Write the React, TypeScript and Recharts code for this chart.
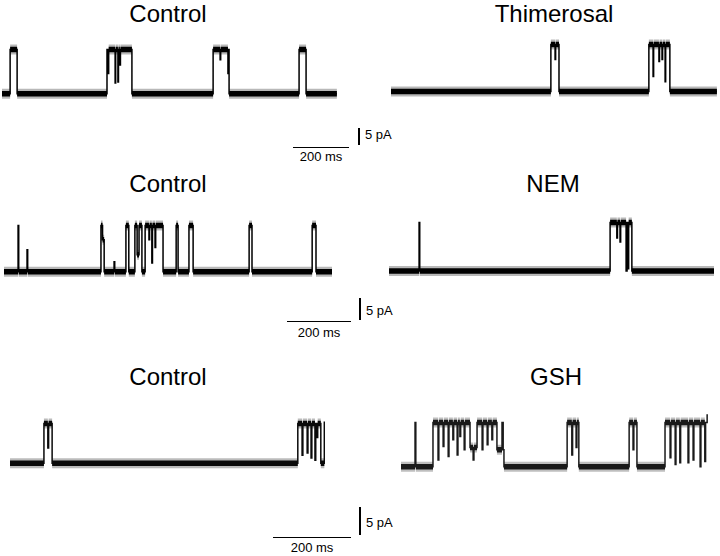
import React from "react";
import { LineChart, Line, XAxis, YAxis } from "recharts";

// Each trace: [time (ms), current (pA)] steps (level holds until next step)
const controlTopSteps: [number, number][] = [[0,0],[29,13],[54,0],[375,13],[379,6],[381,13],[404,3.2],[406,13],[414,3.5],[416,13],[421,8.5],[423,13],[464,0],[754,13],[779,10],[781,13],[807,6],[809,13],[811,0],[1061,13],[1086,0],[1196,0]];
const thimerosalSteps: [number, number][] = [[0,0],[571,13.8],[586,9.4],[588,13.8],[600,0],[921,13.8],[936,4.4],[938,13.8],[957,8.8],[959,13.8],[968,9.4],[970,13.8],[979,2.9],[981,13.8],[996,0],[1164,0]];
const controlMidSteps: [number, number][] = [[0,0],[44,10.5],[46,0],[72,5],[74,0],[303,10.5],[308,7.3],[313,0],[344,2.3],[346,0],[381,10.5],[390,0],[409,10.5],[416,3.9],[422,10.5],[431,0],[441,10.5],[453,7.3],[455,10.5],[462,2],[464,10.5],[472,5.5],[474,10.5],[497,0],[538,10.5],[544,0],[578,10.5],[591,0],[766,10.5],[775,0],[963,10.5],[975,0],[1025,0]];
const nemSteps: [number, number][] = [[0,0],[94,11],[96,0],[691,11],[712,7.5],[714,11],[722,6.6],[724,11],[741,0],[744,11],[747,0.5],[749,11],[759,0],[1016,0]];
const controlBotSteps: [number, number][] = [[0,0],[87,7.1],[97,2.7],[99,7.1],[108,0],[738,7.1],[749,1.4],[751,7.1],[762,1.8],[764,7.1],[772,0.9],[774,7.1],[782,0.5],[784,7.1],[787,4.6],[789,7.1],[797,0],[806,7.3],[808,7.3]];
const gshSteps: [number, number][] = [[0,0],[36,7.9],[38,0],[82,7.9],[95,1.2],[97,7.9],[108,3.6],[110,7.9],[121,1.8],[123,7.9],[133,4.8],[135,7.9],[144,2.1],[146,7.9],[151,5.4],[153,7.9],[162,3],[164,7.9],[177,3.4],[185,1.2],[187,3.4],[195,7.9],[208,3],[210,7.9],[221,3.9],[223,7.9],[233,4.8],[235,7.9],[246,3],[259,7.9],[262,3],[264,0],[426,7.9],[438,2.1],[440,7.9],[449,3.4],[451,7.9],[456,0],[585,7.9],[595,3],[597,7.9],[605,0],[677,7.9],[690,1.6],[692,7.9],[703,0.4],[705,7.9],[715,0.7],[717,7.9],[736,0.7],[738,7.9],[749,1.2],[751,7.9],[767,0],[769,7.9],[779,0.9],[781,7.9],[785,9.2],[787,9.2]];

const titles = ["Control", "Thimerosal", "Control", "NEM", "Control", "GSH"];
const scaleTime = "200 ms";
const scaleCurrent = "5 pA";

// row scales: px per ms, px per pA
const rowScales = [
  { pxPerMs: 0.28, pxPerPA: 3.4 },
  { pxPerMs: 0.32, pxPerPA: 4.4 },
  { pxPerMs: 0.39, pxPerPA: 5.6 },
];

const panels = [
  { steps: controlTopSteps, row: 0, left: 2, baseline: 94, open: 13, title: 0, tx: 168, ty: 14, color: "#000" },
  { steps: thimerosalSteps, row: 0, left: 391, baseline: 92, open: 13.8, title: 1, tx: 554, ty: 14, color: "#000" },
  { steps: controlMidSteps, row: 1, left: 4, baseline: 272, open: 10.5, title: 2, tx: 168, ty: 184, color: "#000" },
  { steps: nemSteps, row: 1, left: 389, baseline: 271, open: 11, title: 3, tx: 553, ty: 184, color: "#000" },
  { steps: controlBotSteps, row: 2, left: 10, baseline: 463, open: 7.1, title: 4, tx: 168, ty: 377, color: "#0a0a0a" },
  { steps: gshSteps, row: 2, left: 401, baseline: 467, open: 7.9, title: 5, tx: 556, ty: 377, color: "#1a1a1a" },
];

const scaleBars = [
  { hx0: 293, hx1: 349, hy: 147, vx: 358, vy0: 128, vy1: 145, ty: 157, cy: 135 },
  { hx0: 287, hx1: 351, hy: 321, vx: 359, vy0: 298, vy1: 320, ty: 333, cy: 311 },
  { hx0: 273, hx1: 351, hy: 537, vx: 359, vy0: 507, vy1: 535, ty: 548, cy: 523 },
];

const FONT = "Arial, 'Liberation Sans', Helvetica, sans-serif";

function buildBand(steps: [number, number][]) {
  const out: { t: number; b: number | null }[] = [];
  for (let k = 0; k < steps.length - 1; k++) {
    const d = steps[k + 1][0] - steps[k][0];
    if (d >= 5) {
      out.push({ t: steps[k][0], b: steps[k][1] });
      out.push({ t: steps[k + 1][0], b: steps[k][1] });
      out.push({ t: steps[k + 1][0], b: null });
    }
  }
  return out;
}

function Trace({ p }: { p: (typeof panels)[number] }) {
  const sc = rowScales[p.row];
  const dur = p.steps[p.steps.length - 1][0];
  const ymin = -3;
  const ymax = p.open + 4;
  const width = dur * sc.pxPerMs;
  const height = (ymax - ymin) * sc.pxPerPA;
  const top = p.baseline - ymax * sc.pxPerPA;
  const traceData = p.steps.map(([t, i]) => ({ t, i }));
  const band = buildBand(p.steps);
  const margin = { top: 0, right: 0, bottom: 0, left: 0 };
  const common = [
    <XAxis key="x" type="number" dataKey="t" domain={[0, dur]} hide />,
    <YAxis key="y" type="number" domain={[ymin, ymax]} hide />,
  ];
  return (
    <>
      <div style={{ position: "absolute", left: p.left, top, width, height }}>
        <LineChart width={width} height={height} data={band} margin={margin}>
          {common}
          <Line dataKey="b" type="linear" stroke={p.color} strokeOpacity={0.28} strokeWidth={10} dot={false} isAnimationActive={false} connectNulls={false} />
          <Line dataKey="b" type="linear" stroke={p.color} strokeWidth={5.5} dot={false} isAnimationActive={false} connectNulls={false} />
        </LineChart>
      </div>
      <div style={{ position: "absolute", left: p.left, top, width, height }}>
        <LineChart width={width} height={height} data={traceData} margin={margin}>
          {common}
          <Line dataKey="i" type="stepAfter" stroke={p.color} strokeWidth={1.5} dot={false} isAnimationActive={false} />
        </LineChart>
      </div>
      <div style={{ position: "absolute", left: p.tx - 100, width: 200, top: p.ty - 14, height: 28, lineHeight: "28px", textAlign: "center", fontFamily: FONT, fontSize: 24, color: "#000" }}>
        {titles[p.title]}
      </div>
    </>
  );
}

export default function App() {
  return (
    <div style={{ position: "absolute", left: 0, top: 0, width: 720, height: 556, background: "#fff", overflow: "hidden" }}>
      {panels.map((p, k) => (
        <Trace key={k} p={p} />
      ))}
      {scaleBars.map((s, k) => (
        <React.Fragment key={k}>
          <div style={{ position: "absolute", left: s.hx0, top: s.hy, width: s.hx1 - s.hx0, height: 1.3, background: "#000" }} />
          <div style={{ position: "absolute", left: s.vx, top: s.vy0, width: 1.5, height: s.vy1 - s.vy0, background: "#000" }} />
          <div style={{ position: "absolute", left: s.vx + 7, top: s.cy - 8, height: 16, lineHeight: "16px", fontFamily: FONT, fontSize: 13, color: "#000", whiteSpace: "nowrap" }}>
            {scaleCurrent}
          </div>
          <div style={{ position: "absolute", left: (s.hx0 + s.hx1) / 2 - 40, width: 80, top: s.ty - 8, height: 16, lineHeight: "16px", textAlign: "center", fontFamily: FONT, fontSize: 13, color: "#000" }}>
            {scaleTime}
          </div>
        </React.Fragment>
      ))}
    </div>
  );
}
